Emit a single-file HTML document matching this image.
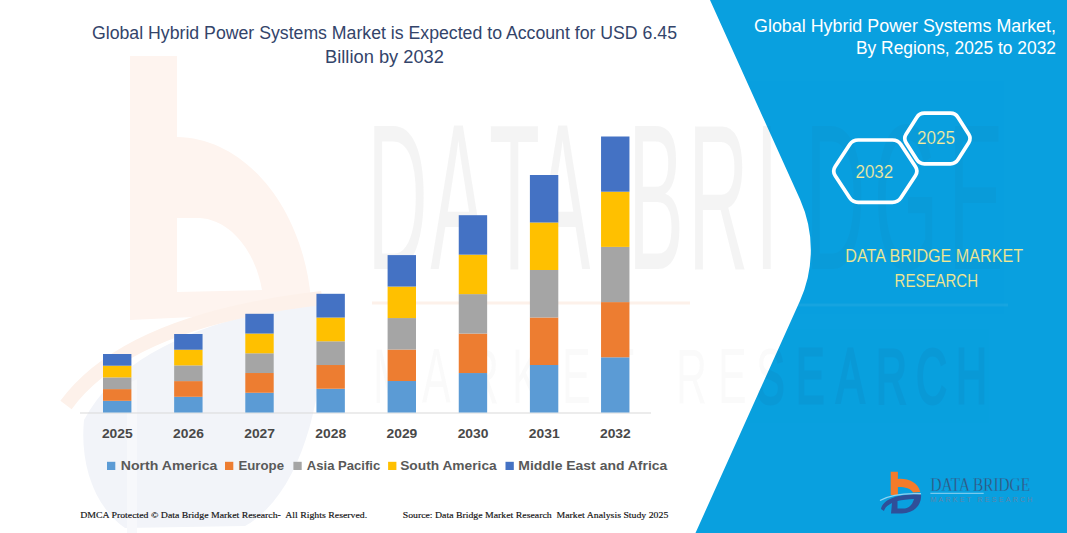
<!DOCTYPE html>
<html><head><meta charset="utf-8">
<style>
html,body{margin:0;padding:0;background:#fff;}
body{width:1067px;height:533px;overflow:hidden;position:relative;}
svg{position:absolute;left:0;top:0;display:block;}
.t{font-family:"Liberation Sans",Arial,sans-serif;}
.s{font-family:"Liberation Serif","Times New Roman",serif;}
</style></head>
<body>
<svg width="1067" height="533" viewBox="0 0 1067 533">
  <defs>
    <path id="panel" d="M710,0 L1067,0 L1067,533 L695.5,533 L799.8,301.2 A124,124 0 0 0 800.1,199.6 Z"/>
    <clipPath id="pclip"><use href="#panel"/></clipPath>
  </defs>
  <!-- watermark: big b logo -->
  <g>
    <path d="M130,56 L177,56 L177,137 C248,138 304,212 311,300 L300,312 L130,320 Z M177,218 L177,292 L262,290 C255,250 230,220 200,218 Z" fill="#fef4ef" fill-rule="evenodd"/>
    <path d="M84,420 C120,350 220,314 324,302 C326,400 300,495 245,526 L125,528 C92,505 80,460 84,420 Z" fill="#f2f4f9"/>
    <path d="M127,384 L137,379 L137,533 L127,533 Z" fill="#f7f8fb"/>
    <path d="M66,405 C110,345 200,312 322,298" fill="none" stroke="#fdf1ea" stroke-width="14"/>
  </g>
  <!-- watermark: DATABRIDGE text (white area) -->
  <g class="t" fill="rgba(110,110,110,0.075)">
    <text transform="translate(0,269) scale(0.4,1)" font-size="208" x="918.7 1076.3 1222.8 1337.1 1570.4 1720.4 1888.4 2012.9 2184.6 2370.4">DATABRIDGE</text>
    <text transform="translate(0,403) scale(0.55,1)" font-size="78" x="678.2 767.3 850.9 930.9 1021.8 1105.5 1229.1 1305.5 1374.5 1447.3 1520.0 1592.7 1665.5 1738.2" fill="rgba(90,90,90,0.028)">MARKETRESEARCH</text>
  </g>
  <line x1="372" y1="303" x2="690" y2="303" stroke="#fdf1ea" stroke-width="3"/>

  <!-- blue panel -->
  <use href="#panel" fill="#09a0df"/>
  <!-- watermark (blue area) -->
  <g clip-path="url(#pclip)">
    <g class="t" fill="rgb(40,60,90)" opacity="0.04">
      <text transform="translate(0,269) scale(0.4,1)" font-size="208" x="918.7 1076.3 1222.8 1337.1 1570.4 1720.4 1888.4 2012.9 2184.6 2370.4">DATABRIDGE</text>
    </g>
    <g class="t" fill="rgb(20,50,90)" stroke="rgb(20,50,90)" stroke-width="3" opacity="0.06">
      <text transform="translate(0,403) scale(0.55,1)" font-size="78" x="678.2 767.3 850.9 930.9 1021.8 1105.5 1229.1 1305.5 1374.5 1447.3 1520.0 1592.7 1665.5 1738.2">MARKETRESEARCH</text>
    </g>
    <line x1="690" y1="305" x2="1008" y2="305" stroke="rgba(255,255,255,0.06)" stroke-width="3"/>
  </g>

  <!-- axis -->
  <line x1="80" y1="413" x2="651" y2="413" stroke="#d9d9d9" stroke-width="1"/>

  <!-- bars -->
  <g>
    <rect x="103.00" y="400.80" width="28.4" height="11.70" fill="#5b9bd5"/>
    <rect x="103.00" y="389.10" width="28.4" height="11.70" fill="#ed7d31"/>
    <rect x="103.00" y="377.40" width="28.4" height="11.70" fill="#a5a5a5"/>
    <rect x="103.00" y="365.70" width="28.4" height="11.70" fill="#ffc000"/>
    <rect x="103.00" y="354.00" width="28.4" height="11.70" fill="#4472c4"/>
    <rect x="174.15" y="396.80" width="28.4" height="15.70" fill="#5b9bd5"/>
    <rect x="174.15" y="381.10" width="28.4" height="15.70" fill="#ed7d31"/>
    <rect x="174.15" y="365.40" width="28.4" height="15.70" fill="#a5a5a5"/>
    <rect x="174.15" y="349.70" width="28.4" height="15.70" fill="#ffc000"/>
    <rect x="174.15" y="334.00" width="28.4" height="15.70" fill="#4472c4"/>
    <rect x="245.30" y="392.76" width="28.4" height="19.74" fill="#5b9bd5"/>
    <rect x="245.30" y="373.02" width="28.4" height="19.74" fill="#ed7d31"/>
    <rect x="245.30" y="353.28" width="28.4" height="19.74" fill="#a5a5a5"/>
    <rect x="245.30" y="333.54" width="28.4" height="19.74" fill="#ffc000"/>
    <rect x="245.30" y="313.80" width="28.4" height="19.74" fill="#4472c4"/>
    <rect x="316.45" y="388.76" width="28.4" height="23.74" fill="#5b9bd5"/>
    <rect x="316.45" y="365.02" width="28.4" height="23.74" fill="#ed7d31"/>
    <rect x="316.45" y="341.28" width="28.4" height="23.74" fill="#a5a5a5"/>
    <rect x="316.45" y="317.54" width="28.4" height="23.74" fill="#ffc000"/>
    <rect x="316.45" y="293.80" width="28.4" height="23.74" fill="#4472c4"/>
    <rect x="387.60" y="381.02" width="28.4" height="31.48" fill="#5b9bd5"/>
    <rect x="387.60" y="349.54" width="28.4" height="31.48" fill="#ed7d31"/>
    <rect x="387.60" y="318.06" width="28.4" height="31.48" fill="#a5a5a5"/>
    <rect x="387.60" y="286.58" width="28.4" height="31.48" fill="#ffc000"/>
    <rect x="387.60" y="255.10" width="28.4" height="31.48" fill="#4472c4"/>
    <rect x="458.75" y="373.04" width="28.4" height="39.46" fill="#5b9bd5"/>
    <rect x="458.75" y="333.58" width="28.4" height="39.46" fill="#ed7d31"/>
    <rect x="458.75" y="294.12" width="28.4" height="39.46" fill="#a5a5a5"/>
    <rect x="458.75" y="254.66" width="28.4" height="39.46" fill="#ffc000"/>
    <rect x="458.75" y="215.20" width="28.4" height="39.46" fill="#4472c4"/>
    <rect x="529.90" y="365.00" width="28.4" height="47.50" fill="#5b9bd5"/>
    <rect x="529.90" y="317.50" width="28.4" height="47.50" fill="#ed7d31"/>
    <rect x="529.90" y="270.00" width="28.4" height="47.50" fill="#a5a5a5"/>
    <rect x="529.90" y="222.50" width="28.4" height="47.50" fill="#ffc000"/>
    <rect x="529.90" y="175.00" width="28.4" height="47.50" fill="#4472c4"/>
    <rect x="601.05" y="357.30" width="28.4" height="55.20" fill="#5b9bd5"/>
    <rect x="601.05" y="302.10" width="28.4" height="55.20" fill="#ed7d31"/>
    <rect x="601.05" y="246.90" width="28.4" height="55.20" fill="#a5a5a5"/>
    <rect x="601.05" y="191.70" width="28.4" height="55.20" fill="#ffc000"/>
    <rect x="601.05" y="136.50" width="28.4" height="55.20" fill="#4472c4"/>
  </g>

  <!-- year labels -->
  <g class="t" font-weight="bold" font-size="13.6" fill="#484848">
    <text x="101.90" y="437.8" textLength="30.8" lengthAdjust="spacingAndGlyphs">2025</text>
    <text x="173.05" y="437.8" textLength="30.8" lengthAdjust="spacingAndGlyphs">2026</text>
    <text x="244.20" y="437.8" textLength="30.8" lengthAdjust="spacingAndGlyphs">2027</text>
    <text x="315.35" y="437.8" textLength="30.8" lengthAdjust="spacingAndGlyphs">2028</text>
    <text x="386.50" y="437.8" textLength="30.8" lengthAdjust="spacingAndGlyphs">2029</text>
    <text x="457.65" y="437.8" textLength="30.8" lengthAdjust="spacingAndGlyphs">2030</text>
    <text x="528.80" y="437.8" textLength="30.8" lengthAdjust="spacingAndGlyphs">2031</text>
    <text x="599.95" y="437.8" textLength="30.8" lengthAdjust="spacingAndGlyphs">2032</text>
  </g>

  <!-- legend -->
  <g class="t" font-weight="bold" font-size="13.4" fill="#595959">
    <rect x="107" y="461.8" width="8.3" height="8.2" fill="#5b9bd5"/>
    <text x="120.8" y="469.7" textLength="96.5" lengthAdjust="spacingAndGlyphs">North America</text>
    <rect x="225" y="461.8" width="8.3" height="8.2" fill="#ed7d31"/>
    <text x="238.5" y="469.7" textLength="45.5" lengthAdjust="spacingAndGlyphs">Europe</text>
    <rect x="293.4" y="461.8" width="8.3" height="8.2" fill="#a5a5a5"/>
    <text x="306.8" y="469.7" textLength="73.4" lengthAdjust="spacingAndGlyphs">Asia Pacific</text>
    <rect x="388.1" y="461.8" width="8.3" height="8.2" fill="#ffc000"/>
    <text x="400.2" y="469.7" textLength="96.5" lengthAdjust="spacingAndGlyphs">South America</text>
    <rect x="505.5" y="461.8" width="8.3" height="8.2" fill="#4472c4"/>
    <text x="518.3" y="469.7" textLength="149.0" lengthAdjust="spacingAndGlyphs">Middle East and Africa</text>
  </g>

  <!-- footer -->
  <g class="s" font-size="9.2" fill="#111" stroke="#111" stroke-width="0.15" style="white-space:pre">
    <text x="80.2" y="517.7" textLength="287" lengthAdjust="spacingAndGlyphs">DMCA Protected © Data Bridge Market Research-&#160; All Rights Reserved.</text>
    <text x="402.7" y="517.7" textLength="265.6" lengthAdjust="spacingAndGlyphs">Source: Data Bridge Market Research&#160; Market Analysis Study 2025</text>
  </g>

  <!-- title -->
  <g class="t" fill="#33446a" font-size="18.3">
    <text x="92" y="39" textLength="585" lengthAdjust="spacingAndGlyphs">Global Hybrid Power Systems Market is Expected to Account for USD 6.45</text>
    <text x="384.5" y="63" text-anchor="middle">Billion by 2032</text>
  </g>

  <!-- right title -->
  <g class="t" fill="#ffffff" font-size="18.9">
    <text x="754" y="31.6" textLength="302" lengthAdjust="spacingAndGlyphs">Global Hybrid Power Systems Market,</text>
    <text x="856" y="53.9" textLength="200" lengthAdjust="spacingAndGlyphs">By Regions, 2025 to 2032</text>
  </g>

  <!-- hexagons -->
  <g fill="none" stroke="#ffffff" stroke-width="3.7" stroke-linejoin="round">
    <path d="M835.22,175.80 Q832.20,171.20 835.22,166.60 L849.68,144.60 Q852.70,140.00 858.20,140.00 L892.40,140.00 Q897.90,140.00 900.92,144.60 L915.38,166.60 Q918.40,171.20 915.38,175.80 L900.92,197.80 Q897.90,202.40 892.40,202.40 L858.20,202.40 Q852.70,202.40 849.68,197.80 Z"/>
    <path d="M906.07,142.73 Q903.40,138.50 906.07,134.27 L916.73,117.43 Q919.40,113.20 924.40,113.20 L950.40,113.20 Q955.40,113.20 958.07,117.43 L968.73,134.27 Q971.40,138.50 968.73,142.73 L958.07,159.57 Q955.40,163.80 950.40,163.80 L924.40,163.80 Q919.40,163.80 916.73,159.57 Z"/>
  </g>
  <g class="t" fill="#f5ec9c" font-size="18.6" stroke="#09a0df" stroke-width="0.2">
    <text x="855.5" y="178" textLength="37.7" lengthAdjust="spacingAndGlyphs">2032</text>
    <text x="917" y="143.7" textLength="38" lengthAdjust="spacingAndGlyphs">2025</text>
  </g>
  <g class="t" fill="#f1e891" font-size="18.6" stroke="#09a0df" stroke-width="0.12">
    <text x="845.3" y="261.8" textLength="177.7" lengthAdjust="spacingAndGlyphs">DATA BRIDGE MARKET</text>
    <text x="894.6" y="286.5" textLength="83.4" lengthAdjust="spacingAndGlyphs">RESEARCH</text>
  </g>

  <!-- logo bottom right -->
  <g>
    <path d="M890.7,471.8 L897.9,471.8 L897.9,478.9 C908,478.2 918,482 920.3,492 L913,492.5 C911,488.5 905,486.8 897.9,486.9 L897.9,495 L890.7,495 Z" fill="#f47b2a"/>
    <path d="M881,509 C883,499 898,494 921,494 C922,504 915,513 902,513.5 L891,513.5 L892,503 C888,505 885,507 884,511 Z M897.5,501 L897.5,508.5 L905,508.5 C910,508 913,503 914,499 C908,499 902,500 897.5,501 Z" fill="#2f4f99" fill-rule="evenodd"/>
    <path d="M880,500.5 C890,495 905,493 921,493.8" fill="none" stroke="#8fd3f2" stroke-width="1.4"/>
    <text class="s" x="930.4" y="490.6" font-size="19" textLength="99.6" lengthAdjust="spacingAndGlyphs" fill="#34557d" stroke="#09a0df" stroke-width="0.3">DATA BRIDGE</text>
    <line x1="930.4" y1="493.3" x2="983.7" y2="493.3" stroke="#a6d9f2" stroke-width="0.9"/>
    <text class="t" x="930.4" y="502.4" font-size="7" textLength="102" lengthAdjust="spacing" fill="#5f86ab">MARKET  RESEARCH</text>
  </g>
</svg>
</body></html>
